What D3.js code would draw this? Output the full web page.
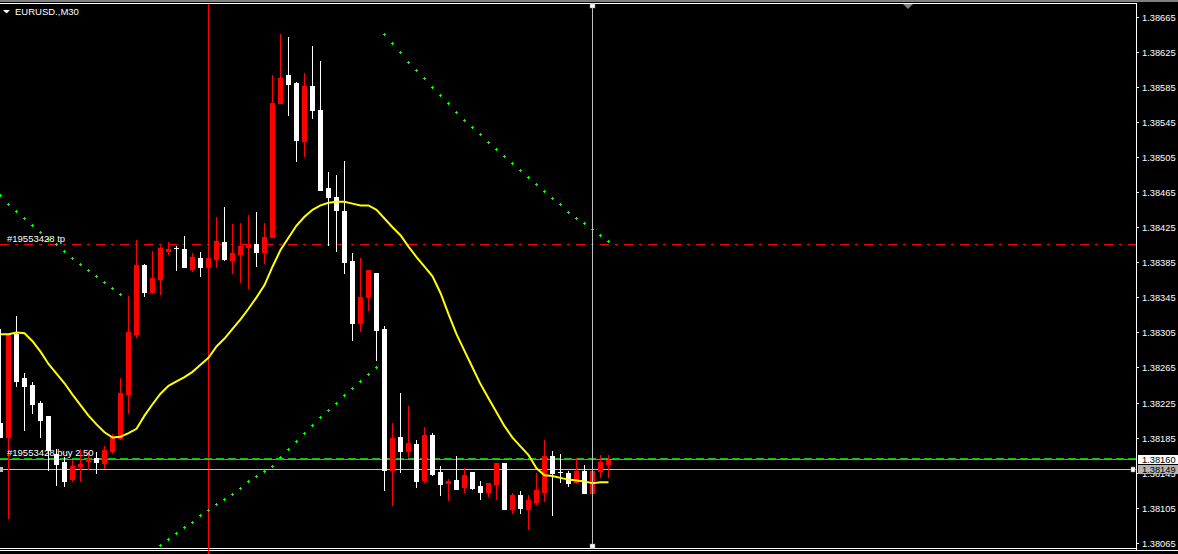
<!DOCTYPE html>
<html><head><meta charset="utf-8">
<script src="https://cdn.jsdelivr.net/npm/d3@7"></script>
<style>html,body{margin:0;padding:0;background:#000;overflow:hidden}svg{display:block}</style>
</head><body><svg id="c" width="1178" height="554"></svg>
<script>
// ---------- data ----------
const symbol = "EURUSD.,M30";
const opens  = [1.38202,1.38186,1.38303,1.38253,1.38245,1.38225,1.38210,1.38166,1.38157,1.38138,
                1.38152,1.38158,1.38162,1.38156,1.38170,1.38184,1.38235,1.38303,1.38382,1.38351,
                1.38366,1.38398,1.38401,1.38400,1.38377,1.38390,1.38380,1.38389,1.38408,1.38388,
                1.38394,1.38402,1.38406,1.38397,1.38414,1.38567,1.38599,1.38590,1.38524,1.38586,
                1.38559,1.38470,1.38460,1.38444,1.38387,1.38316,1.38345,1.38373,1.38309,1.38148,
                1.38186,1.38170,1.38178,1.38137,1.38188,1.38146,1.38133,1.38137,1.38129,1.38146,
                1.38130,1.38123,1.38132,1.38156,1.38103,1.38119,1.38103,1.38111,1.38123,1.38164,
                1.38146,1.38145,1.38134,1.38147,1.38122,1.38147,1.38155];
const highs  = [1.38309,1.38303,1.38324,1.38259,1.38248,1.38227,1.38210,1.38172,1.38163,1.38159,
                1.38172,1.38169,1.38169,1.38175,1.38189,1.38253,1.38347,1.38410,1.38383,1.38398,
                1.38404,1.38408,1.38404,1.38415,1.38396,1.38397,1.38399,1.38437,1.38448,1.38429,
                1.38430,1.38439,1.38442,1.38430,1.38599,1.38646,1.38642,1.38591,1.38601,1.38632,
                1.38615,1.38488,1.38485,1.38501,1.38396,1.38390,1.38376,1.38373,1.38312,1.38202,
                1.38236,1.38221,1.38182,1.38197,1.38190,1.38153,1.38138,1.38164,1.38150,1.38146,
                1.38135,1.38133,1.38156,1.38156,1.38122,1.38124,1.38119,1.38145,1.38182,1.38170,
                1.38166,1.38147,1.38162,1.38154,1.38151,1.38165,1.38165];
const lows   = [1.38186,1.38093,1.38244,1.38194,1.38213,1.38186,1.38148,1.38131,1.38130,1.38135,
                1.38135,1.38149,1.38145,1.38150,1.38167,1.38183,1.38213,1.38300,1.38346,1.38350,
                1.38349,1.38395,1.38376,1.38380,1.38375,1.38369,1.38376,1.38380,1.38388,1.38373,
                1.38363,1.38356,1.38381,1.38384,1.38414,1.38567,1.38553,1.38501,1.38506,1.38550,
                1.38467,1.38405,1.38398,1.38373,1.38296,1.38307,1.38331,1.38274,1.38125,1.38108,
                1.38146,1.38163,1.38129,1.38134,1.38142,1.38119,1.38114,1.38126,1.38123,1.38126,
                1.38115,1.38118,1.38115,1.38103,1.38099,1.38099,1.38081,1.38109,1.38113,1.38097,
                1.38134,1.38130,1.38133,1.38122,1.38122,1.38140,1.38140];
const closes = [1.38186,1.38303,1.38249,1.38244,1.38223,1.38205,1.38171,1.38155,1.38135,1.38153,
                1.38155,1.38161,1.38157,1.38171,1.38185,1.38236,1.38305,1.38382,1.38351,1.38367,
                1.38401,1.38400,1.38401,1.38380,1.38391,1.38380,1.38390,1.38409,1.38389,1.38396,
                1.38404,1.38406,1.38397,1.38414,1.38567,1.38595,1.38589,1.38525,1.38586,1.38559,
                1.38468,1.38460,1.38445,1.38385,1.38316,1.38345,1.38376,1.38308,1.38148,1.38185,
                1.38170,1.38179,1.38135,1.38188,1.38143,1.38132,1.38135,1.38126,1.38142,1.38127,
                1.38123,1.38133,1.38156,1.38103,1.38119,1.38105,1.38114,1.38125,1.38164,1.38145,
                1.38146,1.38133,1.38147,1.38122,1.38147,1.38157,1.38159];
const maValues = [1.38303,1.38303,1.38305,1.38304,1.38295,1.38283,1.38269,1.38258,1.38247,1.38234,
                1.38222,1.38210,1.38200,1.38191,1.38185,1.38186,1.38190,1.38195,1.38210,1.38223,
                1.38235,1.38244,1.38249,1.38254,1.38260,1.38268,1.38276,1.38289,1.38298,1.38309,
                1.38320,1.38332,1.38345,1.38359,1.38380,1.38399,1.38413,1.38427,1.38437,1.38445,
                1.38450,1.38453,1.38454,1.38454,1.38452,1.38450,1.38450,1.38445,1.38435,1.38425,
                1.38416,1.38403,1.38391,1.38380,1.38369,1.38350,1.38326,1.38303,1.38284,1.38265,
                1.38246,1.38230,1.38214,1.38198,1.38185,1.38175,1.38165,1.38150,1.38142,1.38141,
                1.38139,1.38137,1.38136,1.38135,1.38133,1.38134,1.38134];
const dotValues = [1.38462,1.38452,1.38444,1.38436,1.38428,1.38420,1.38412,1.38406,1.38398,1.38390,
                1.38383,1.38376,1.38369,1.38362,1.38356,1.38349,null,null,null,null,
                1.38062,1.38069,1.38076,1.38083,1.38089,1.38097,1.38102,1.38109,1.38115,1.38121,
                1.38128,1.38135,1.38141,1.38147,1.38153,1.38163,1.38172,1.38181,1.38190,1.38199,
                1.38208,1.38217,1.38225,1.38234,1.38242,1.38250,1.38258,1.38266,1.38646,1.38635,
                1.38625,1.38614,1.38604,1.38595,1.38585,1.38576,1.38567,1.38557,1.38548,1.38539,
                1.38531,1.38522,1.38514,1.38506,1.38498,1.38490,1.38482,1.38474,1.38466,1.38458,
                1.38451,1.38443,1.38436,1.38430,1.38423,1.38416,1.38409];
const priceTicks = [1.38665,1.38625,1.38585,1.38545,1.38505,1.38465,1.38425,1.38385,1.38345,
                    1.38305,1.38265,1.38225,1.38185,1.38145,1.38105,1.38065];
const tpPrice = 1.38406;
const orderOpenPrice = 1.38162;
const askPrice = 1.38160;
const bidPrice = 1.38149;
const orderId = "19553428";
const orderLots = "2.50";
const redVLineBar = 26;
const grayVLineBar = 74;

// ---------- layout ----------
const W = 1178, H = 554;
const plotRight = 1136;
const svg = d3.select("#c");
svg.append("rect").attr("width", W).attr("height", H).attr("fill", "#000");

const n = opens.length;
const x = d3.scaleLinear().domain([0, n - 1]).range([0, 8 * (n - 1)]);
const y = d3.scaleLinear().domain([1.38065, 1.38665]).range([542.7, 17]);
const py = v => Math.round(y(v));

const font = "'Liberation Sans', Arial, sans-serif";

// frame
svg.append("rect").attr("x", 0).attr("y", 0).attr("width", W).attr("height", 2).attr("fill", "#808080");
svg.append("rect").attr("x", 0).attr("y", 3).attr("width", plotRight + 1).attr("height", 1).attr("fill", "#fff");
svg.append("rect").attr("x", plotRight).attr("y", 3).attr("width", 1).attr("height", 548).attr("fill", "#fff");
svg.append("rect").attr("x", 0).attr("y", 548).attr("width", plotRight + 1).attr("height", 1).attr("fill", "#fff");
svg.append("rect").attr("x", 0).attr("y", 550).attr("width", W).attr("height", 1).attr("fill", "#fff");

// price axis ticks & labels
const axisG = svg.append("g");
priceTicks.forEach(t => {
  const yy = py(t);
  axisG.append("rect").attr("x", plotRight + 1).attr("y", yy).attr("width", 2).attr("height", 1).attr("fill", "#fff");
  axisG.append("text").attr("x", 1142).attr("y", yy + 3.5).attr("fill", "#fff")
    .attr("font-family", font).attr("font-size", 9.3).text(t.toFixed(5));
});

// vertical red line
svg.append("rect").attr("x", Math.round(x(redVLineBar))).attr("y", 4).attr("width", 1).attr("height", 550).attr("fill", "#f00");

// horizontal order lines
svg.append("line").attr("x1", 0).attr("x2", plotRight).attr("y1", py(tpPrice) + 0.5).attr("y2", py(tpPrice) + 0.5)
  .attr("stroke", "#f00").attr("stroke-width", 1).attr("stroke-dasharray", "9,6,3,6");
svg.append("line").attr("x1", 0).attr("x2", plotRight).attr("y1", py(orderOpenPrice) + 0.5).attr("y2", py(orderOpenPrice) + 0.5)
  .attr("stroke", "#00c800").attr("stroke-width", 1).attr("stroke-dasharray", "8,4");
svg.append("rect").attr("x", 0).attr("y", py(askPrice)).attr("width", plotRight).attr("height", 1).attr("fill", "#778899");
svg.append("rect").attr("x", 0).attr("y", py(bidPrice)).attr("width", plotRight).attr("height", 1).attr("fill", "#c0c0c0");

// green indicator dots
const dotG = svg.append("g");
dotValues.forEach((v, i) => {
  if (v == null) return;
  const cx = Math.round(x(i)), cy = py(v);
  if (cy > 548) return;
  dotG.append("rect").attr("x", cx - 1).attr("y", cy).attr("width", 3).attr("height", 1).attr("fill", "#00ff00");
  dotG.append("rect").attr("x", cx).attr("y", cy - 1).attr("width", 1).attr("height", 3).attr("fill", "#00ff00");
});

// candles
const candles = d3.range(n).map(i => ({i, o: opens[i], h: highs[i], l: lows[i], c: closes[i]}));
const cg = svg.append("g");
candles.forEach(d => {
  const cx = Math.round(x(d.i));
  const col = d.c > d.o ? "#ff0000" : "#ffffff";
  const yh = py(d.h), yl = py(d.l);
  cg.append("rect").attr("x", cx).attr("y", yh).attr("width", 1).attr("height", Math.max(1, yl - yh + 1)).attr("fill", col);
  const yt = py(Math.max(d.o, d.c)), yb = py(Math.min(d.o, d.c));
  cg.append("rect").attr("x", cx - 2).attr("y", yt).attr("width", 5).attr("height", Math.max(1, yb - yt + 1)).attr("fill", col);
});

// moving average
svg.append("path").datum(maValues)
  .attr("d", d3.line().x((v, i) => x(i) + 0.5).y(v => y(v)))
  .attr("fill", "none").attr("stroke", "#ffff00").attr("stroke-width", 2);

// gray vertical line + handles
const gx = Math.round(x(grayVLineBar));
svg.append("rect").attr("x", gx).attr("y", 4).attr("width", 1).attr("height", 544).attr("fill", "#c0c0c0");
[4, 544].forEach(yy => svg.append("rect").attr("x", gx - 2).attr("y", yy).attr("width", 5).attr("height", 4)
  .attr("fill", "#fff").attr("stroke", "#808080").attr("stroke-width", 0.5));
// bid line handles
svg.append("rect").attr("x", 0).attr("y", py(bidPrice) - 2).attr("width", 3).attr("height", 5).attr("fill", "#c0c0c0");
svg.append("rect").attr("x", plotRight - 5).attr("y", py(bidPrice) - 2).attr("width", 4).attr("height", 5).attr("fill", "#fff").attr("stroke", "#808080").attr("stroke-width", 0.5);

// chart shift triangle
svg.append("path").attr("d", `M903,4 L913,4 L908,9 Z`).attr("fill", "#808080");

// order labels
svg.append("text").attr("x", 7).attr("y", py(tpPrice) - 2).attr("fill", "#fff").attr("font-family", font).attr("font-size", 9.5)
  .text(`#${orderId} tp`);
svg.append("text").attr("x", 7).attr("y", py(orderOpenPrice) - 2).attr("fill", "#fff").attr("font-family", font).attr("font-size", 9.5)
  .text(`#${orderId} buy ${orderLots}`);

// price labels for ask / bid
[[askPrice, "#ffffff"], [bidPrice, "#b4b4b4"]].forEach(([p, bg]) => {
  const yy = y(p);
  svg.append("rect").attr("x", 1138).attr("y", Math.round(yy) - 4).attr("width", 40).attr("height", 9).attr("fill", bg);
  svg.append("text").attr("x", 1142).attr("y", Math.round(yy) + 4).attr("fill", "#000")
    .attr("font-family", font).attr("font-size", 9.3).text(p.toFixed(5));
});

// title
svg.append("path").attr("d", "M3,10 L10,10 L6.5,13.5 Z").attr("fill", "#fff");
svg.append("text").attr("x", 15).attr("y", 15).attr("fill", "#fff").attr("font-family", font).attr("font-size", 9.5).text(symbol);
</script>
</body></html>
